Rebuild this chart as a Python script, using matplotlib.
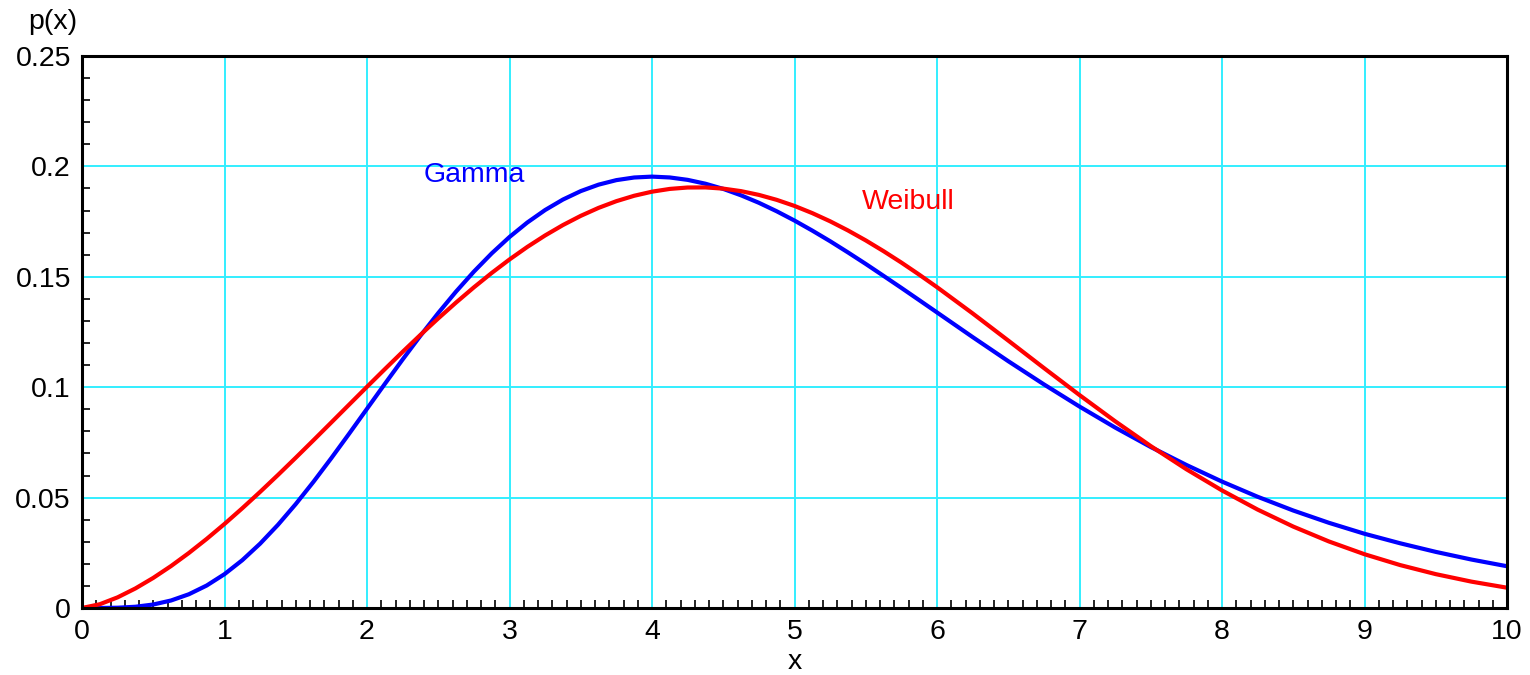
import matplotlib
matplotlib.use("Agg")
import matplotlib.pyplot as plt
from matplotlib.ticker import MultipleLocator

plt.rcParams['font.family'] = ['Liberation Sans', 'DejaVu Sans']

x_vals = [0.0, 0.125, 0.25, 0.375, 0.5, 0.625, 0.75, 0.875, 1.0, 1.125, 1.25, 1.375,
          1.5, 1.625, 1.75, 1.875, 2.0, 2.125, 2.25, 2.375, 2.5, 2.625, 2.75, 2.875,
          3.0, 3.125, 3.25, 3.375, 3.5, 3.625, 3.75, 3.875, 4.0, 4.125, 4.25, 4.375,
          4.5, 4.625, 4.75, 4.875, 5.0, 5.125, 5.25, 5.375, 5.5, 5.625, 5.75, 5.875,
          6.0, 6.25, 6.5, 6.75, 7.0, 7.25, 7.5, 7.75, 8.0, 8.25, 8.5, 8.75, 9.0, 9.25,
          9.5, 9.75, 10.0]

gamma_vals = [0.0, 0.000009, 0.000127, 0.000566, 0.001580, 0.003403, 0.006227, 0.010182,
              0.015328, 0.021668, 0.029145, 0.037657, 0.047067, 0.057210, 0.067909,
              0.078975, 0.090223, 0.101473, 0.112553, 0.123308, 0.133602, 0.143313,
              0.152339, 0.160599, 0.168031, 0.174590, 0.180245, 0.184986, 0.188810,
              0.191734, 0.193782, 0.194974, 0.195371, 0.194987, 0.193904, 0.192158,
              0.189808, 0.186894, 0.183518, 0.179679, 0.175469, 0.170917, 0.166119,
              0.161051, 0.155828, 0.150421, 0.144976, 0.139434, 0.133866, 0.122706,
              0.111790, 0.101289, 0.091238, 0.081733, 0.072905, 0.064785, 0.057252,
              0.050378, 0.044153, 0.038590, 0.033625, 0.029314, 0.025419, 0.021952,
              0.018917]

weibull_vals = [0.0, 0.001709, 0.004830, 0.008866, 0.013631, 0.019010, 0.024921, 0.031293,
                0.038066, 0.045182, 0.052587, 0.060230, 0.068058, 0.076019, 0.084062,
                0.092135, 0.100186, 0.108160, 0.116019, 0.123699, 0.131158, 0.138347,
                0.145220, 0.151737, 0.157850, 0.163532, 0.168731, 0.173435, 0.177601,
                0.181216, 0.184253, 0.186704, 0.188551, 0.189802, 0.190440, 0.190481,
                0.189934, 0.188795, 0.187097, 0.184851, 0.182095, 0.178838, 0.175139,
                0.171000, 0.166485, 0.161607, 0.156440, 0.150981, 0.145310, 0.133422,
                0.121125, 0.108703, 0.096442, 0.084587, 0.073334, 0.062843, 0.053244,
                0.044574, 0.036874, 0.030141, 0.024356, 0.019441, 0.015339, 0.011947,
                0.009193]

x_ticks = [0, 1, 2, 3, 4, 5, 6, 7, 8, 9, 10]
y_ticks = [0, 0.05, 0.1, 0.15, 0.2, 0.25]
y_tick_labels = ['0', '0.05', '0.1', '0.15', '0.2', '0.25']

fig = plt.figure(figsize=(15.3, 6.75), dpi=100)
ax = fig.add_axes([82 / 1530, 1 - 608 / 675, (1507 - 82) / 1530, (608 - 56) / 675])

ax.plot(x_vals, gamma_vals, color='#0000ff', lw=3, zorder=3, solid_joinstyle='round')
ax.plot(x_vals, weibull_vals, color='#ff0000', lw=3, zorder=3, solid_joinstyle='round')

ax.set_xlim(0, 10)
ax.set_ylim(0, 0.25)
ax.set_xticks(x_ticks)
ax.set_xticklabels([str(t) for t in x_ticks])
ax.set_yticks(y_ticks)
ax.set_yticklabels(y_tick_labels)
ax.xaxis.set_minor_locator(MultipleLocator(0.1))
ax.yaxis.set_minor_locator(MultipleLocator(0.01))

ax.grid(True, which='major', color='#33eeff', lw=1.4, zorder=1)
ax.tick_params(which='major', length=0, labelsize=20.5, pad=8)
ax.tick_params(which='minor', direction='in', length=6, width=1.2, color='black',
               top=False, right=False)
for s in ax.spines.values():
    s.set_linewidth(2.2)
    s.set_zorder(4)

fig.text(53 / 1530, 1 - 22 / 675, 'p(x)', fontsize=20.5, ha='center', va='center')
fig.text(795 / 1530, 1 - 662 / 675, 'x', fontsize=20.5, ha='center', va='center')

ax.text(2.4, 0.196, 'Gamma', color='#0000ff', fontsize=20.5, ha='left', va='center')
ax.text(5.47, 0.184, 'Weibull', color='#ff0000', fontsize=20.5, ha='left', va='center')

fig.savefig('out.png', dpi=100)
